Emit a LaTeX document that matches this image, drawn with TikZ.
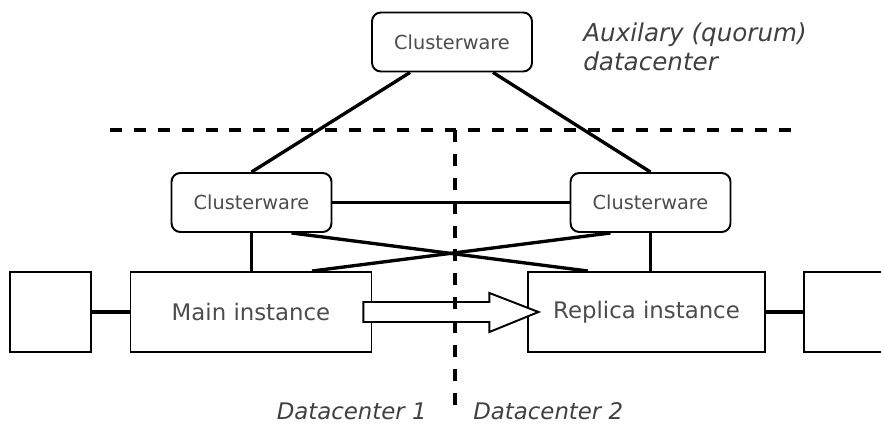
\documentclass[tikz,border=0pt]{standalone}
\usepackage{fontspec}
\setmainfont{DejaVu Sans}
\usetikzlibrary{calc}

\begin{document}
\begin{tikzpicture}[x=0.02cm,y=-0.02cm]
    \tikzstyle{cw}=[draw=black,line width=1.1pt,rounded corners=5pt,minimum width=3.2cm,minimum height=1.18cm,text=black!70,font=\fontsize{11}{13}\selectfont]
    \tikzstyle{inst}=[draw=black,line width=1.1pt,minimum height=1.6cm,text=black!70,font=\fontsize{13}{15}\selectfont]
    \tikzstyle{link}=[line width=1.9pt]
    \tikzstyle{border}=[line width=2pt,dash pattern=on 6.8pt off 6.8pt]
    \tikzstyle{dc}=[text=black!75,inner sep=0pt,font=\fontsize{13}{13}\selectfont\itshape]
    \useasboundingbox (0,0) rectangle (881,425);

    \node[cw] (cwtop) at (452,42) {Clusterware};
    \node[cw] (cwleft) at (251.5,202.5) {Clusterware};
    \node[cw] (cwright) at (650.5,202.5) {Clusterware};
    \node[inst,minimum width=4.82cm] (main) at (251,312) {Main instance};
    \node[inst,minimum width=4.74cm] (replica) at (646.5,312) {Replica instance};
    \node[inst,minimum width=1.62cm] (lbox) at (50.5,312) {};
    \node[inst,minimum width=1.62cm] (rbox) at (844.5,312) {};

    \draw[link] ([xshift=-0.84cm]cwtop.south) -- (cwleft.north);
    \draw[link] ([xshift=0.82cm]cwtop.south) -- (cwright.north);
    \draw[link] (cwleft.east) -- (cwright.west);
    \draw[link] (cwleft.south) -- (cwleft.south |- main.north);
    \draw[link] (cwright.south) -- (cwright.south |- replica.north);
    \draw[link] ([xshift=0.8cm]cwleft.south) -- ([xshift=-1.17cm]replica.north);
    \draw[link] ([xshift=-0.8cm]cwright.south) -- ([xshift=1.22cm]main.north);
    \draw[link] (lbox.east) -- (main.west);
    \draw[link] (replica.east) -- (rbox.west);

    % replication arrow
    \draw[line width=1.1pt,fill=white] ($(main.east)+(-9,-10)$) -- ($(main.east)+(117,-10)$)
      -- ($(main.east)+(117,-19)$) -- ($(main.east)+(166,0)$) -- ($(main.east)+(117,20)$)
      -- ($(main.east)+(117,10)$) -- ($(main.east)+(-9,10)$) -- cycle;

    % datacenter borders
    \coordinate (hl) at (110,130);
    \coordinate (hr) at (795,130);
    \coordinate (vt) at (455,130);
    \coordinate (vb) at (455,410);
    \draw[border] (hl) -- (hr);
    \draw[border] (vt) -- (vb);

    \node[dc,anchor=base east] (dc1) at (427,419) {Datacenter 1};
    \node[dc,anchor=base west] (dc2) at (473,419) {Datacenter 2};
    \node[dc,font=\fontsize{14}{14}\selectfont\itshape,anchor=north west,align=left] (aux) at (583,22) {Auxilary (quorum)\\[3pt]datacenter};
\end{tikzpicture}
\end{document}
